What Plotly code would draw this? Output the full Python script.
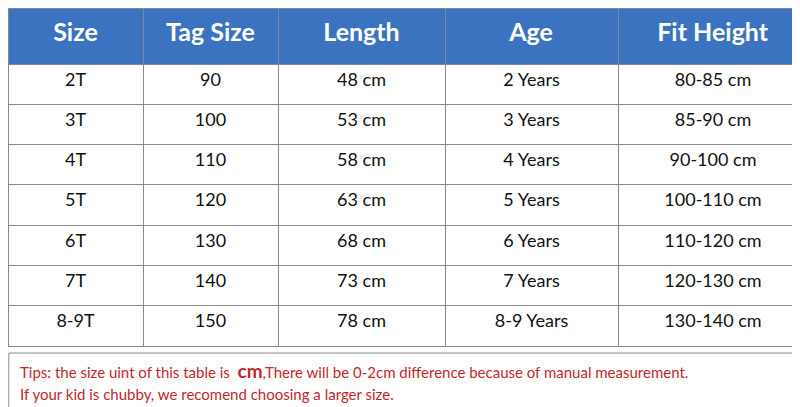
import plotly.graph_objects as go

headers = ["Size", "Tag Size", "Length", "Age", "Fit Height"]
sizes = ["2T", "3T", "4T", "5T", "6T", "7T", "8-9T"]
tag_sizes = ["90", "100", "110", "120", "130", "140", "150"]
lengths = ["48 cm", "53 cm", "58 cm", "63 cm", "68 cm", "73 cm", "78 cm"]
ages = ["2 Years", "3 Years", "4 Years", "5 Years", "6 Years", "7 Years", "8-9 Years"]
fit_heights = ["80-85 cm", "85-90 cm", "90-100 cm", "100-110 cm", "110-120 cm",
               "120-130 cm", "130-140 cm"]

W, H = 800, 407
fig = go.Figure(go.Table(
    columnwidth=[135, 135, 167, 173, 190],
    domain=dict(x=[0, 1], y=[62 / H, 1]),
    header=dict(
        values=[f"<b>{h}</b>" for h in headers],
        fill_color="#3b73c0",
        line=dict(color="#7a8aa0", width=1),
        font=dict(family="Lato, DejaVu Sans", size=25, color="white"),
        align="center",
        height=56,
    ),
    cells=dict(
        values=[sizes, tag_sizes, lengths, ages, fit_heights],
        fill_color="white",
        line=dict(color="#8a8a8a", width=1),
        font=dict(family="Lato, DejaVu Sans", size=18, color="#111111"),
        align="center",
        height=40.3,
    ),
))

red = "#c0282b"
fig.add_shape(type="rect", xref="paper", yref="paper", x0=0.001, x1=0.999,
              y0=0.002, y1=62 / H, line=dict(color="#8a8a8a", width=1))
fig.add_annotation(
    text="Tips: the size uint of this table is  <b><span style='font-size:19px'>cm</span></b>,"
         "There will be 0-2cm difference because of manual measurement.",
    xref="paper", yref="paper", x=10 / W, y=1 - 362 / H, xanchor="left", yanchor="middle",
    showarrow=False, font=dict(family="Lato, DejaVu Sans", size=15, color=red))
fig.add_annotation(
    text="If your kid is chubby, we recomend choosing a larger size.",
    xref="paper", yref="paper", x=10 / W, y=1 - 386 / H, xanchor="left", yanchor="middle",
    showarrow=False, font=dict(family="Lato, DejaVu Sans", size=15, color=red))

fig.update_layout(width=W, height=H, margin=dict(l=0, r=0, t=0, b=0),
                  paper_bgcolor="white")
fig.write_html("out.html")
